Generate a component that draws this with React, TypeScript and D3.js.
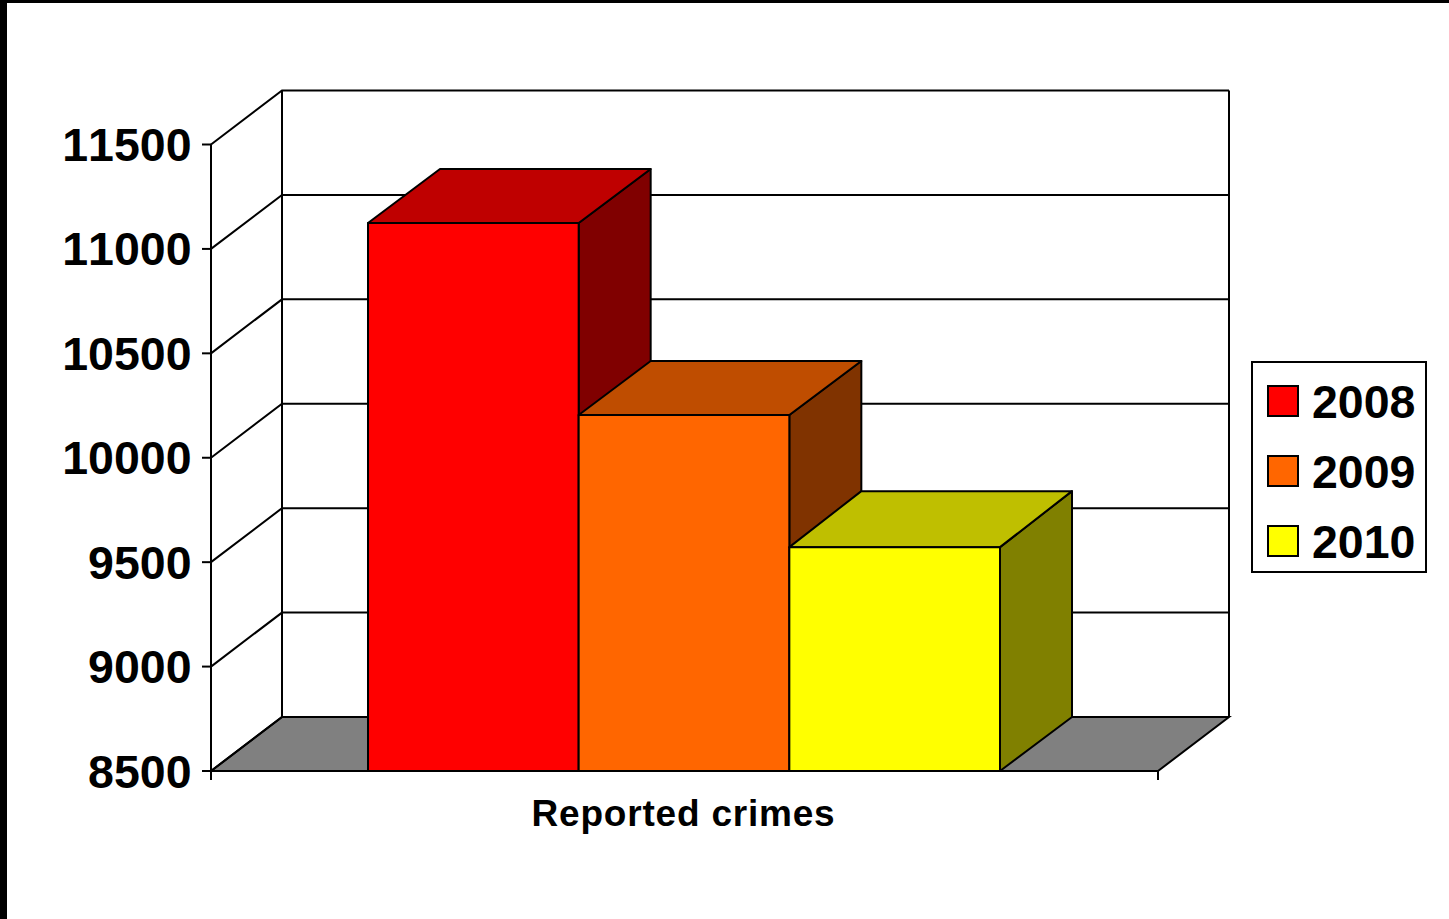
import React from 'react';
import * as d3 from 'd3';

const years = ['2008', '2009', '2010'];
const crimes = [11124, 10205, 9572];
const yTicks = [8500, 9000, 9500, 10000, 10500, 11000, 11500];
const categoryLabel = 'Reported crimes';
const colors = ['#ff0000', '#ff6600', '#ffff00'];
const topColors = ['#bf0000', '#bf4d00', '#bfbf00'];
const sideColors = ['#800000', '#803300', '#808000'];

const width = 1449;
const height = 919;
const left = 211;
const right = 1158;
const bottom = 771;
const top = 144.5;
const depthX = 71;
const barDepthX = 72;
const depthY = -54;
const lineW = 2;

const y = d3.scaleLinear().domain([8500, 11500]).range([bottom, top]);
const x = d3.scaleBand().domain(years).range([368, 1000]);

const poly = (pts: [number, number][]) => d3.line()(pts) + 'Z';

export default function App() {
  const font = '"Liberation Sans", Arial, sans-serif';
  const bw = x.bandwidth();

  return (
    <svg
      width={width}
      height={height}
      style={{ position: 'absolute', left: 0, top: 0, background: '#fff' }}
      fontFamily={font}
      fontWeight="bold"
    >
      {/* frame edges from the source slide */}
      <rect x={0} y={0} width={7} height={height} fill="#000" />
      <rect x={0} y={0} width={width} height={3} fill="#000" />

      {/* floor */}
      <path
        d={poly([
          [left, bottom],
          [left + depthX, bottom + depthY],
          [right + depthX, bottom + depthY],
          [right, bottom],
        ])}
        fill="#808080"
        stroke="#000"
        strokeWidth={lineW}
      />

      {/* back and side walls */}
      {yTicks.map((t) => (
        <g key={t} stroke="#000" strokeWidth={lineW} fill="none">
          <path
            d={`M${left},${y(t)}L${left + depthX},${y(t) + depthY}L${right + depthX},${y(t) + depthY}`}
          />
          <line x1={left - 9} x2={left} y1={y(t)} y2={y(t)} />
        </g>
      ))}
      <g stroke="#000" strokeWidth={lineW}>
        <line x1={left} x2={left} y1={top} y2={bottom + 9} />
        <line x1={left + depthX} x2={left + depthX} y1={top + depthY} y2={bottom + depthY} />
        <line x1={right + depthX} x2={right + depthX} y1={top + depthY} y2={bottom + depthY} />
        <line x1={right} x2={right} y1={bottom} y2={bottom + 9} />
        <line x1={left} x2={right} y1={bottom} y2={bottom} />
      </g>

      {/* bars */}
      {years.map((year, i) => {
        const x0 = x(year) as number;
        const x1 = x0 + bw;
        const yv = y(crimes[i]);
        // last bar's lid sits a touch higher in the original
        const yBack = yv + depthY - (i === 2 ? 2 : 0);
        return (
          <g key={year} stroke="#000" strokeWidth={lineW} strokeLinejoin="round">
            <path
              d={poly([
                [x1, yv],
                [x1 + barDepthX, yBack],
                [x1 + barDepthX, bottom + depthY],
                [x1, bottom],
              ])}
              fill={sideColors[i]}
            />
            <path
              d={poly([
                [x0, yv],
                [x0 + barDepthX, yBack],
                [x1 + barDepthX, yBack],
                [x1, yv],
              ])}
              fill={topColors[i]}
            />
            <rect x={x0} y={yv} width={bw} height={bottom - yv} fill={colors[i]} />
          </g>
        );
      })}

      {/* y tick labels */}
      {yTicks.map((t) => (
        <text
          key={t}
          x={191.5}
          y={y(t) + 16.5}
          textAnchor="end"
          fontSize={46.5}
          fill="#000"
          style={{ fontKerning: 'none' }}
        >
          {t}
        </text>
      ))}

      {/* category label */}
      <text x={683.5} y={826} textAnchor="middle" fontSize={37} letterSpacing={0.8} fill="#000">
        {categoryLabel}
      </text>

      {/* legend */}
      <rect x={1252} y={362} width={174} height={210} fill="#fff" stroke="#000" strokeWidth={lineW} />
      {years.map((year, i) => (
        <g key={year}>
          <rect
            x={1268}
            y={386 + i * 70}
            width={30}
            height={30}
            fill={colors[i]}
            stroke="#000"
            strokeWidth={lineW}
          />
          <text
            x={1312}
            y={418 + i * 70}
            fontSize={46.5}
            fill="#000"
            style={{ fontKerning: 'none' }}
          >
            {year}
          </text>
        </g>
      ))}
    </svg>
  );
}
